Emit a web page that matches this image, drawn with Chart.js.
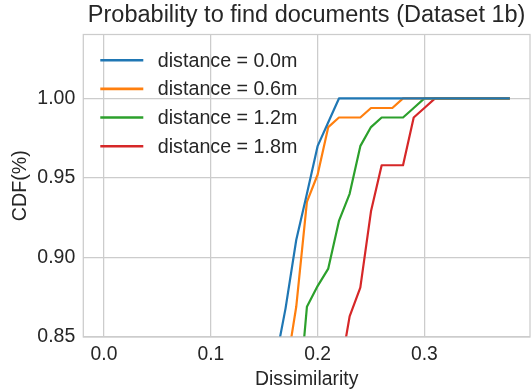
<!DOCTYPE html>
<html>
<head>
<meta charset="utf-8">
<script src="https://cdn.jsdelivr.net/npm/chart.js@4.4.0/dist/chart.umd.min.js"></script>
<style>
  html, body { margin: 0; padding: 0; background: #ffffff; }
  canvas { display: block; }
</style>
</head>
<body>
<canvas id="myChart" width="531" height="392"></canvas>
<script>
// dissimilarity sample points (x axis)
var dissimilarity = [0.16, 0.17, 0.18, 0.19, 0.20, 0.21, 0.22, 0.23, 0.24, 0.25, 0.26, 0.27,
                     0.28, 0.29, 0.30, 0.31, 0.32, 0.33, 0.34, 0.35, 0.36, 0.37, 0.38];

// CDF per distance (null = below the visible range)
var cdf_0_0 = [0.833, 0.868, 0.911, 0.940, 0.970, 0.985, 1.0, 1.0, 1.0, 1.0, 1.0, 1.0,
               1.0, 1.0, 1.0, 1.0, 1.0, 1.0, 1.0, 1.0, 1.0, 1.0, 1.0];
var cdf_0_6 = [null, 0.827, 0.869, 0.935, 0.952, 0.982, 0.988, 0.988, 0.988, 0.994, 0.994, 0.994,
               1.0, 1.0, 1.0, 1.0, 1.0, 1.0, 1.0, 1.0, 1.0, 1.0, 1.0];
var cdf_1_2 = [null, null, 0.793, 0.869, 0.882, 0.893, 0.923, 0.940, 0.970, 0.982, 0.988, 0.988,
               0.988, 0.994, 1.0, 1.0, 1.0, 1.0, 1.0, 1.0, 1.0, 1.0, 1.0];
var cdf_1_8 = [null, null, null, null, null, null, 0.824, 0.863, 0.881, 0.929, 0.958, 0.958,
               0.958, 0.988, 0.994, 1.0, 1.0, 1.0, 1.0, 1.0, 1.0, 1.0, 1.0];

var series_labels = ['distance = 0.0m', 'distance = 0.6m', 'distance = 1.2m', 'distance = 1.8m'];
var series_values = [cdf_0_0, cdf_0_6, cdf_1_2, cdf_1_8];

var x_ticks = [0.0, 0.1, 0.2, 0.3];
var y_ticks = [0.85, 0.90, 0.95, 1.00];

var line_color = ['#1f77b4', '#ff7f0e', '#2ca02c', '#d62728'];
var text_color = '#262626';
var grid_color = '#cccccc';
var font_family = '"Liberation Sans", Arial, sans-serif';

var data_set = [];
for (var s = 0; s < series_values.length; s++) {
    var points = [];
    for (var i = 0; i < dissimilarity.length; i++) {
        points.push({x: dissimilarity[i], y: series_values[s][i]});
    }
    data_set.push({
        label: series_labels[s],
        data: points,
        borderColor: line_color[s],
        backgroundColor: line_color[s],
        borderWidth: 2.2,
        borderJoinStyle: 'round',
        pointRadius: 0,
        fill: false,
        tension: 0
    });
}

// frame round the plot + legend in the upper left corner, like matplotlib
const frame_and_legend = {
    id: 'frame_and_legend',
    afterDatasetsDraw: (chart) => {
        const ctx = chart.ctx;
        const area = chart.chartArea;
        ctx.save();
        ctx.strokeStyle = grid_color;
        ctx.lineWidth = 1.25;
        ctx.strokeRect(area.left, area.top, area.right - area.left, area.bottom - area.top);

        ctx.font = '19.7px ' + font_family;
        ctx.textBaseline = 'middle';
        ctx.textAlign = 'left';
        chart.data.datasets.forEach((ds, k) => {
            const y = area.top + 25.7 + k * 28.67;
            ctx.strokeStyle = ds.borderColor;
            ctx.lineWidth = 2.6;
            ctx.beginPath();
            ctx.moveTo(area.left + 17, y);
            ctx.lineTo(area.left + 60, y);
            ctx.stroke();
            ctx.fillStyle = text_color;
            ctx.fillText(ds.label, area.left + 74.5, y + 1);
        });
        ctx.restore();
    }
};

var the_chart_canvas = document.getElementById('myChart').getContext('2d');
var myChart = new Chart(the_chart_canvas, {
    type: 'line',
    data: { datasets: data_set },
    options: {
        responsive: false,
        animation: false,
        devicePixelRatio: 1,
        layout: { padding: { left: 0, right: 1, top: 0, bottom: 0 } },
        plugins: {
            legend: { display: false },
            tooltip: { enabled: false },
            title: {
                display: true,
                fullSize: false,
                text: 'Probability to find documents (Dataset 1b)',
                color: text_color,
                font: { family: font_family, size: 23.5, weight: 'normal' },
                padding: { top: 1.3, bottom: 5 }
            }
        },
        scales: {
            x: {
                type: 'linear',
                min: -0.0194,
                max: 0.3989,
                afterBuildTicks: (axis) => { axis.ticks = x_ticks.map(v => ({value: v})); },
                afterFit: (axis) => { axis.height = 55; },
                grid: { color: grid_color, lineWidth: 1.25, drawTicks: false },
                border: { display: false },
                ticks: {
                    color: text_color,
                    padding: 6,
                    maxRotation: 0,
                    font: { family: font_family, size: 19.3 },
                    callback: (v) => Number(v).toFixed(1)
                },
                title: {
                    display: true,
                    text: 'Dissimilarity',
                    color: text_color,
                    font: { family: font_family, size: 19.4 },
                    padding: { top: 0, bottom: 1 }
                }
            },
            y: {
                type: 'linear',
                min: 0.85,
                max: 1.0402,
                afterBuildTicks: (axis) => { axis.ticks = y_ticks.map(v => ({value: v})); },
                afterFit: (axis) => { axis.width = 83.3; },
                grid: { color: grid_color, lineWidth: 1.25, drawTicks: false },
                border: { display: false },
                ticks: {
                    color: text_color,
                    padding: 8,
                    font: { family: font_family, size: 19.5 },
                    callback: (v) => Number(v).toFixed(2)
                },
                title: {
                    display: true,
                    text: 'CDF(%)',
                    color: text_color,
                    font: { family: font_family, size: 19.7 },
                    padding: { top: 9, bottom: 0 }
                }
            }
        }
    },
    plugins: [frame_and_legend]
});
</script>
</body>
</html>
